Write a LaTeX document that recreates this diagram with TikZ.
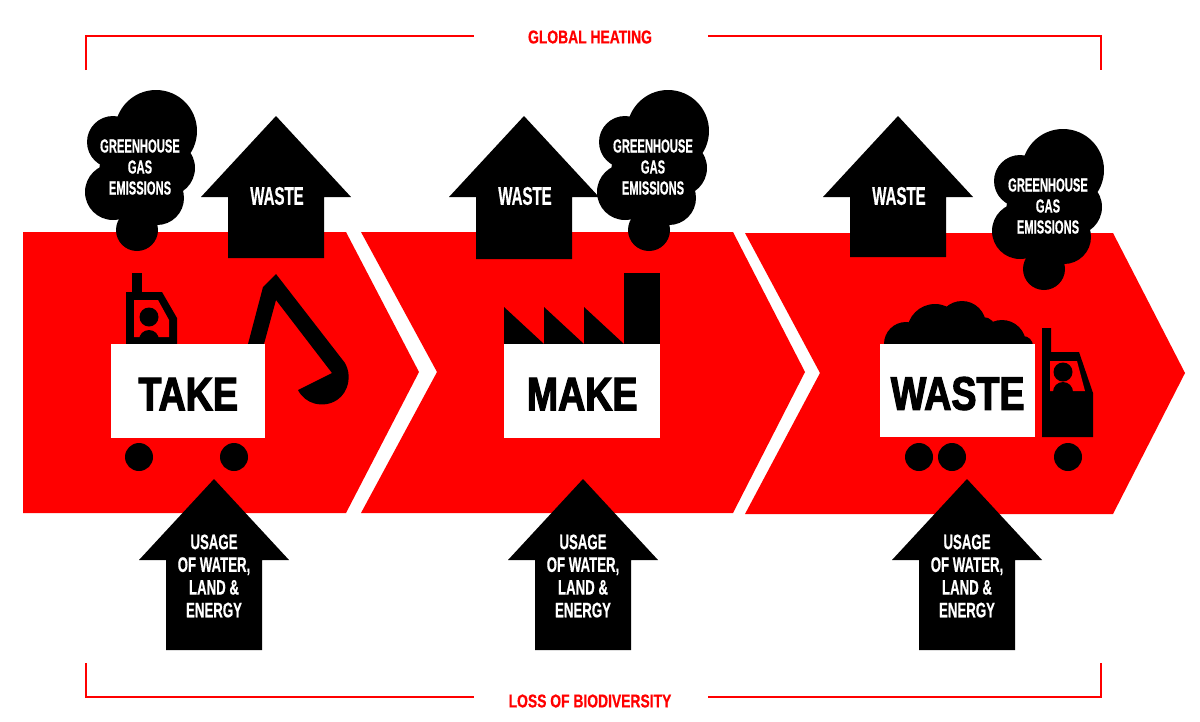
\documentclass[tikz,border=0pt]{standalone}
\usepackage{fontspec}
\usepackage{xcolor}
\usepackage{tikz}
\setmainfont{Liberation Sans}
\newfontfamily\narrowfont[FakeStretch=0.63,FakeBold=0.5]{Liberation Sans Bold}
\newfontfamily\tallfont[FakeStretch=0.59,FakeBold=0.5]{Liberation Sans Bold}
\newfontfamily\framefont[FakeStretch=0.75,FakeBold=0.6]{Liberation Sans Bold}
\newfontfamily\boxfont[FakeStretch=0.80,FakeBold=2.5]{Liberation Sans Bold}
\definecolor{flow}{HTML}{FF0000}
\tikzset{
  chevron/.style={fill=flow, draw=none},
  arrowlabel/.style={font=\tallfont\fontsize{25.5}{28}\selectfont, text=white, align=center, inner sep=0pt},
  usagelabel/.style={font=\narrowfont\fontsize{21}{22.7}\selectfont, text=white, align=center, inner sep=0pt},
  cloudlabel/.style={font=\tallfont\fontsize{19}{21}\selectfont, text=white, align=center, inner sep=0pt},
  stagebox/.style={fill=white, draw=none, font=\boxfont\fontsize{47}{47}\selectfont, text=black, inner sep=0pt, anchor=north west, text height=38pt, text depth=0pt},
  framelabel/.style={font=\framefont\fontsize{18.5}{20}\selectfont, text=flow, inner sep=0pt},
  frameline/.style={draw=flow, line width=1.5pt},
  wheel/.style={circle, fill=black, minimum size=28pt, inner sep=0pt}
}
% up arrow, apex at (#1,#2), base at y=#3
\newcommand{\uparrowshape}[3]{%
  \fill[black] (#1,#2) -- (#1+75,#2+81) -- (#1+48,#2+81) -- (#1+48,#3)
    -- (#1-48,#3) -- (#1-48,#2+81) -- (#1-75,#2+81) -- cycle;
}
% smoke cloud, shifted by (#1,#2)
\newcommand{\cloudshape}[2]{%
  \begin{scope}[shift={(#1,#2)}]
    \fill[black] (156,131) circle (41) (113,142) circle (26) (113,192) circle (28)
      (167,168) circle (28) (157,198) circle (27) (137,230) circle (21)
      (137,173) circle (38) (137,205) circle (20);
  \end{scope}
}
\begin{document}
\begin{tikzpicture}[x=1pt,y=-1pt]
\useasboundingbox (0,0) rectangle (1200,721);
\fill[white] (0,0) rectangle (1200,721);

% red flow
\fill[chevron] (23,232) -- (346,232) -- (419,372) -- (346,513) -- (23,513) -- cycle;
\fill[chevron] (361,232) -- (733,232) -- (805,372) -- (733,513) -- (361,513) -- (437,372) -- cycle;
\fill[chevron] (745,233) -- (1113,233) -- (1185,373) -- (1113,514) -- (745,514) -- (820,373) -- cycle;

% frame
\coordinate (topleftend) at (86,70);
\coordinate (topleftcorner) at (86,36);
\coordinate (toplefttip) at (474,36);
\coordinate (toprighttip) at (708,36);
\coordinate (toprightcorner) at (1101,36);
\coordinate (toprightend) at (1101,70);
\coordinate (botleftend) at (86,663);
\coordinate (botleftcorner) at (86,697);
\coordinate (botlefttip) at (474,697);
\coordinate (botrighttip) at (708,697);
\coordinate (botrightcorner) at (1101,697);
\coordinate (botrightend) at (1101,663);
\draw[frameline] (topleftend) -- (topleftcorner) -- (toplefttip);
\draw[frameline] (toprighttip) -- (toprightcorner) -- (toprightend);
\draw[frameline] (botleftend) -- (botleftcorner) -- (botlefttip);
\draw[frameline] (botrighttip) -- (botrightcorner) -- (botrightend);
\node[framelabel] (heating) at (590,37) {GLOBAL HEATING};
\node[framelabel] (biodiv) at (590,701) {LOSS OF BIODIVERSITY};

% arrows
\uparrowshape{276}{116}{258}
\uparrowshape{524}{116}{259}
\uparrowshape{898}{116}{257}
\uparrowshape{214}{479}{650}
\uparrowshape{583}{479}{650}
\uparrowshape{967}{479}{650}
\node[arrowlabel] (wastea) at (277,196) {WASTE};
\node[arrowlabel] (wasteb) at (525,196) {WASTE};
\node[arrowlabel] (wastec) at (899,196) {WASTE};
\node[usagelabel] (usagea) at (214,576) {USAGE\\OF WATER,\\LAND \&\\ENERGY};
\node[usagelabel] (usageb) at (583,576) {USAGE\\OF WATER,\\LAND \&\\ENERGY};
\node[usagelabel] (usagec) at (967,576) {USAGE\\OF WATER,\\LAND \&\\ENERGY};

% clouds
\cloudshape{0}{0}
\cloudshape{512}{0}
\cloudshape{907}{39}
\node[cloudlabel] (clouda) at (140,167) {GREENHOUSE\\GAS\\EMISSIONS};
\node[cloudlabel] (cloudb) at (653,167) {GREENHOUSE\\GAS\\EMISSIONS};
\node[cloudlabel] (cloudc) at (1048,206) {GREENHOUSE\\GAS\\EMISSIONS};

% digger cab and arm
\fill[black] (132,273) rectangle (142,292);
\fill[black] (126,292) -- (162,292) -- (177,318) -- (177,344) -- (126,344) -- cycle;
\fill[flow] (134,300) -- (158,300) -- (169,320) -- (169,337) -- (134,337) -- cycle;
\fill[black] (149,317) circle (9.5) (149,340) circle (10);
\fill[black] (248,344) -- (263,287) -- (276,274) -- (345,363)
  .. controls (352,375) and (349,392) .. (337,400)
  .. controls (323,409) and (305,404) .. (298,390)
  -- (332,373) -- (276,300) -- (264,344) -- cycle;

% factory
\fill[black] (504,307) -- (544,344) -- (504,344) -- cycle;
\fill[black] (544,307) -- (584,344) -- (544,344) -- cycle;
\fill[black] (584,307) -- (624,344) -- (584,344) -- cycle;
\fill[black] (624,273) rectangle (660,344);

% truck load and cab
\begin{scope}
  \clip (880,280) rectangle (1035,345);
  \fill[black] (906,344) circle (22) (935,332) circle (28) (962,325) circle (24)
    (983,330) circle (13) (1002,344) circle (24) (1023,346) circle (10);
  \fill[black] (895,325) rectangle (1015,345);
\end{scope}
\fill[black] (1042,328) -- (1051,328) -- (1051,352) -- (1079,352) -- (1093,393)
  -- (1093,437) -- (1042,437) -- cycle;
\fill[flow] (1050,361) -- (1077,361) -- (1085,391) -- (1050,391) -- cycle;
\fill[black] (1063,372) circle (9.5) (1063,392) circle (10);

% stages
\node[stagebox, minimum width=154pt, minimum height=94pt] (take) at (111,344) {TAKE};
\node[stagebox, minimum width=156pt, minimum height=94pt] (make) at (504,344) {MAKE};
\node[stagebox, minimum width=155pt, minimum height=93pt] (waste) at (880,344) {WASTE};

% wheels
\node[wheel] (wheela) at (139,457) {};
\node[wheel] (wheelb) at (234,457) {};
\node[wheel] (wheelc) at (919,457) {};
\node[wheel] (wheeld) at (952,457) {};
\node[wheel] (wheele) at (1068,457) {};

\end{tikzpicture}
\end{document}
